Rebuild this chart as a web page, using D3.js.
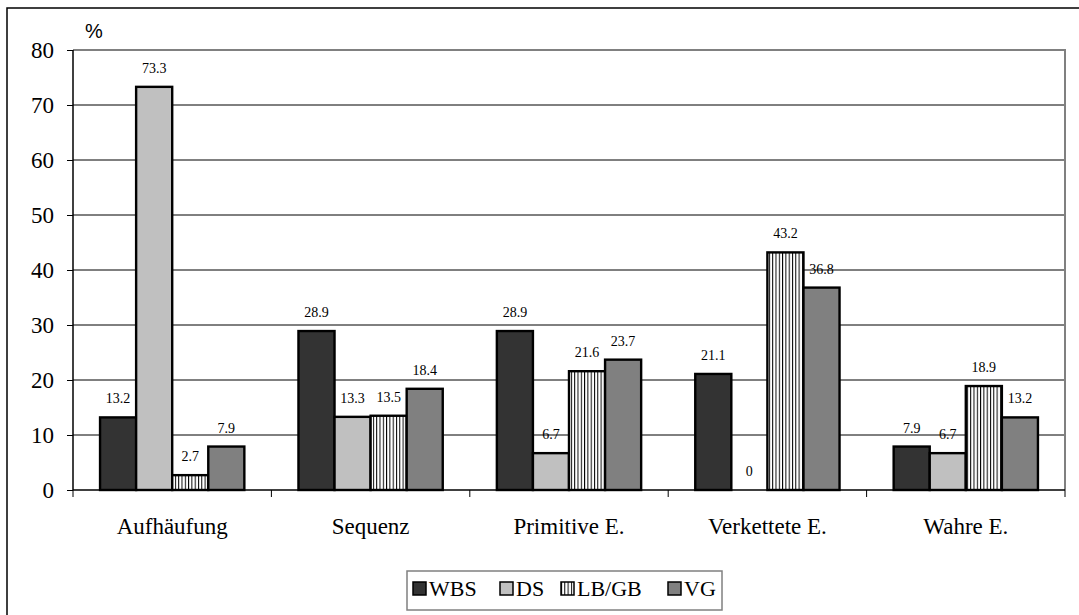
<!DOCTYPE html>
<html><head><meta charset="utf-8">
<script src="https://cdn.jsdelivr.net/npm/d3@7"></script>
<style>body{margin:0;background:#fff}svg{display:block}svg text{font-family:'Liberation Serif','Times New Roman',serif}</style>
</head><body>
<svg id="c" width="1079" height="615"></svg>
<script>
const categories = ["Aufhäufung", "Sequenz", "Primitive E.", "Verkettete E.", "Wahre E."];
const seriesNames = ["WBS", "DS", "LB/GB", "VG"];
const WBS = [13.2, 28.9, 28.9, 21.1, 7.9];
const DS = [73.3, 13.3, 6.7, 0, 6.7];
const LBGB = [2.7, 13.5, 21.6, 43.2, 18.9];
const VG = [7.9, 18.4, 23.7, 36.8, 13.2];
const yTicks = [0, 10, 20, 30, 40, 50, 60, 70, 80];
const seriesValues = [WBS, DS, LBGB, VG];
const fills = ["#333333", "#c0c0c0", "url(#stripes)", "#808080"];

const svg = d3.select("#c");
const serif = "'Liberation Serif','Times New Roman',serif";
const defs = svg.append("defs");
const pat = defs.append("pattern").attr("id", "stripes").attr("patternUnits", "userSpaceOnUse")
  .attr("width", 3.3).attr("height", 10);
pat.append("rect").attr("width", 3.3).attr("height", 10).attr("fill", "#fff");
pat.append("rect").attr("x", 0).attr("width", 1).attr("height", 10).attr("fill", "#000");

// outer frame
svg.append("rect").attr("x", 7).attr("y", 8).attr("width", 1200).attr("height", 800)
  .attr("fill", "none").attr("stroke", "#000").attr("stroke-width", 1.5);

const L = 73, R = 1065, T = 50, B = 490;
const x0 = d3.scaleBand().domain(categories).range([L, R]).padding(0);
const bw = x0.bandwidth() / 5.5;
const x1 = d3.scaleBand().domain(seriesNames).range([0.75 * bw, 4.75 * bw]).padding(0);
const y = d3.scaleLinear().domain([0, 80]).range([B, T]);

// gridlines
svg.append("g").selectAll("line").data(yTicks.filter(d => d > 0 && d < 80)).join("line")
  .attr("x1", L).attr("x2", R).attr("y1", d => y(d)).attr("y2", d => y(d))
  .attr("stroke", "#000").attr("stroke-width", 1);
// plot area border top/right
svg.append("path").attr("d", `M${L},${y(80)}H${R}V${B}`).attr("fill", "none")
  .attr("stroke", "#808080").attr("stroke-width", 2);

// bars
const data = [];
categories.forEach((c, i) => seriesNames.forEach((s, j) => data.push({c, s, v: seriesValues[j][i], j})));
svg.append("g").selectAll("rect").data(data).join("rect")
  .attr("x", d => x0(d.c) + x1(d.s)).attr("width", x1.bandwidth())
  .attr("y", d => y(d.v)).attr("height", d => y(0) - y(d.v))
  .attr("fill", d => fills[d.j]).attr("stroke", "#000").attr("stroke-width", d => d.v > 0 ? 2.4 : 0);

// labels
svg.append("g").selectAll("text").data(data).join("text")
  .attr("x", d => x0(d.c) + x1(d.s) + x1.bandwidth() / 2).attr("y", d => y(d.v) - 14)
  .attr("text-anchor", "middle").style("font-family", serif).attr("font-size", 14)
  .attr("fill", "#000").text(d => String(d.v));

// y axis
const ya = svg.append("g").attr("transform", `translate(${L},0)`)
  .call(d3.axisLeft(y).tickValues(yTicks).tickSize(6).tickPadding(13).tickFormat(d3.format("d")));
ya.attr("font-family", null);
ya.select(".domain").attr("stroke", "#000").attr("stroke-width", 1.5).attr("d", `M0,${T}V${B}`);
ya.selectAll(".tick line").attr("stroke", "#000");
ya.selectAll(".tick text").style("font-family", serif).attr("font-size", 23).attr("fill", "#000");

// x axis
const xa = svg.append("g").attr("transform", `translate(0,${B})`)
  .call(d3.axisBottom(x0).tickSize(0).tickPadding(28));
xa.attr("font-family", null);
xa.select(".domain").remove();
xa.append("line").attr("x1", L).attr("x2", R).attr("stroke", "#000").attr("stroke-width", 1.5);
xa.selectAll(".sep").data(d3.range(categories.length + 1)).join("line").attr("class", "sep")
  .attr("x1", i => L + i * x0.bandwidth()).attr("x2", i => L + i * x0.bandwidth())
  .attr("y1", 0).attr("y2", 7).attr("stroke", "#000");
xa.selectAll(".tick text").style("font-family", serif).attr("font-size", 23).attr("fill", "#000");

// % label
svg.append("text").attr("x", 85).attr("y", 38).style("font-family", "'Liberation Sans',Arial,sans-serif")
  .attr("font-size", 20).text("%");

// legend
const lg = svg.append("g");
lg.append("rect").attr("x", 407).attr("y", 571).attr("width", 315).attr("height", 39)
  .attr("fill", "#fff").attr("stroke", "#808080").attr("stroke-width", 1.5);
const lx = [413, 500, 561, 668];
seriesNames.forEach((s, j) => {
  lg.append("rect").attr("x", lx[j]).attr("y", 582).attr("width", 13).attr("height", 13)
    .attr("fill", fills[j]).attr("stroke", "#000").attr("stroke-width", 1.5);
  lg.append("text").attr("x", lx[j] + 16).attr("y", 596).style("font-family", serif)
    .attr("font-size", 22).text(s);
});
</script>
</body></html>
